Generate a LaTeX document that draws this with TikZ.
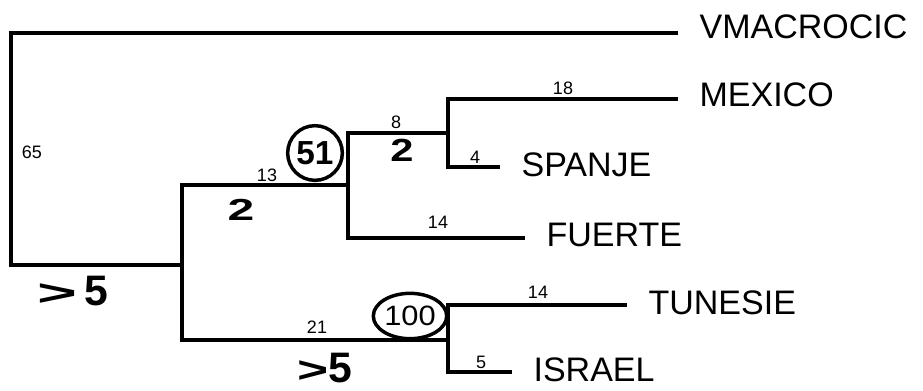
\documentclass[tikz,border=0pt]{standalone}
\usepackage{fontspec}
\setmainfont{Liberation Sans}
\usepackage{graphicx}
\usetikzlibrary{positioning, shapes.geometric}
\tikzset{
	branch/.style={
			line width=3.6pt,
			line join=miter
		},
	taxon/.style={
			font=\fontsize{25.5}{25}\selectfont,
			inner sep=0pt
		},
	brlen/.style={
			font=\fontsize{13.5}{14}\selectfont,
			inner sep=0pt
		}
}
\tikzset{
	handnote/.style={font=\fontsize{#1}{#1}\selectfont\bfseries, inner sep=0pt},
	handnote/.default=24
}
\tikzset{
	bootcircle/.style={
			circle,
			draw=black,
			line width=2.6pt,
			minimum size=41pt,
			inner sep=0pt,
			font=\fontsize{25}{25}\selectfont\bfseries
		},
	bootellipse/.style={
			ellipse,
			draw=black,
			line width=2.6pt,
			minimum width=55pt,
			minimum height=34pt,
			inner sep=0pt,
			font=\fontsize{21}{21}\selectfont
		}
}

\begin{document}
\begin{tikzpicture}[x=0.75pt, y=-0.75pt]
        \useasboundingbox (0,0) rectangle (923,390);

        % inner nodes of the tree
        \coordinate (root) at (11,150);
        \coordinate (n1) at (182,265);
        \coordinate (n2) at (348,185);
        \coordinate (n3) at (448,133);
        \coordinate (n4) at (448,340);

        % tips
        \coordinate (tvm) at (678,33);
        \coordinate (tmx) at (678,99);
        \coordinate (tsp) at (500,167);
        \coordinate (tfu) at (525,238);
        \coordinate (ttu) at (627,305);
        \coordinate (tis) at (512,372);

        \node[taxon, right = 16pt of tvm, yshift=5pt] (vmacrocic) {VMACROCIC};
        \node[taxon, right = 16pt of tmx, yshift=3pt] (mexico) {MEXICO};
        \node[taxon, right = 16pt of tsp, yshift=2pt] (spanje) {SPANJE};
        \node[taxon, right = 16pt of tfu, yshift=2pt] (fuerte) {FUERTE};
        \node[taxon, right = 16pt of ttu, yshift=2pt] (tunesie) {TUNESIE};
        \node[taxon, right = 16pt of tis, yshift=2pt] (israel) {ISRAEL};

        \draw[branch] (root) |- (tvm);
        \draw[branch] (root) |- (n1);
        \draw[branch] (n1) |- (n2);
        \draw[branch] (n1) |- (n4);
        \draw[branch] (n2) |- (n3);
        \draw[branch] (n2) |- (tfu);
        \draw[branch] (n3) |- (tmx);
        \draw[branch] (n3) |- (tsp);
        \draw[branch] (n4) |- (ttu);
        \draw[branch] (n4) |- (tis);

        % branch lengths
        \node[brlen] (l65) at (32,152) {65};
        \node[brlen] (l13) at (267,175) {13};
        \node[brlen] (l8) at (396,122) {8};
        \node[brlen] (l18) at (563,88) {18};
        \node[brlen] (l4) at (475,157) {4};
        \node[brlen] (l14a) at (438,222) {14};
        \node[brlen] (l21) at (317,327) {21};
        \node[brlen] (l14b) at (538,292) {14};
        \node[brlen] (l5) at (481,362) {5};

        % hand written notes
        \node[bootcircle] (b51) at (315,153) {51};
        \node[bootellipse] (b100) at (410,316) {\scalebox{1.1}[1]{100}};
        \node[handnote] (h2a) at (241,210) {\scalebox{1.5}[0.95]{2}};
        \node[handnote] (h2b) at (402,150) {\scalebox{1.3}[1]{2}};
        \node[handnote=32] (hgt1) at (73,291) {\scalebox{1.6}[0.85]{>}\,5};
        \node[handnote=32] (hgt2) at (325,368) {\scalebox{1.25}[0.85]{>}5};
      \end{tikzpicture}
\end{document}
